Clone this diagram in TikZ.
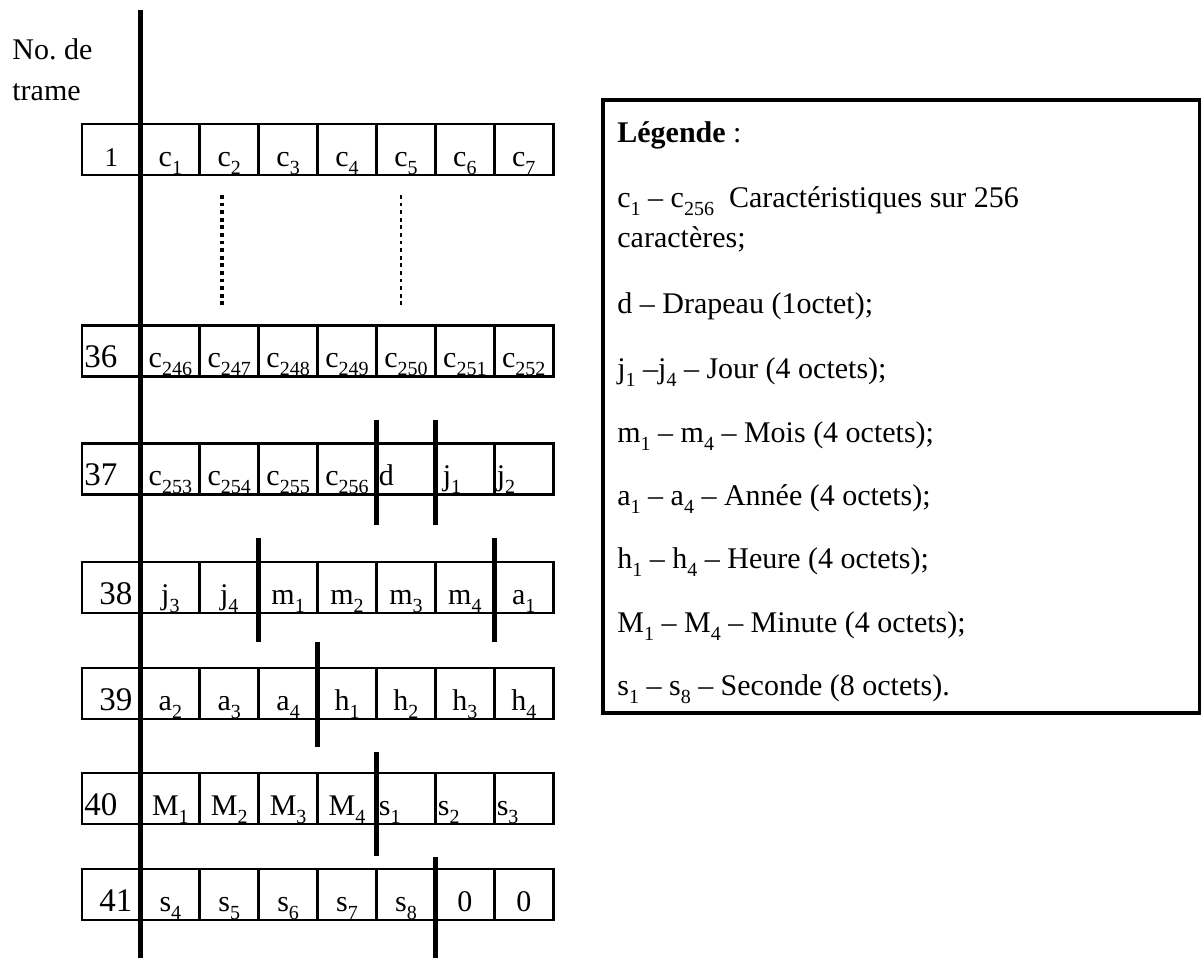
\documentclass[tikz,border=0pt]{standalone}
\usepackage{fontspec}
\setmainfont{Liberation Serif}
\usepackage{tikz}
\usetikzlibrary{positioning}
\tikzstyle{cell} = [rectangle, draw=black, line width=1.4pt, minimum width=29.45pt, minimum height=25.5pt, inner sep=0pt, outer sep=0pt, text height=21pt, text depth=4.5pt, font=\fontsize{15}{18}\selectfont]
\tikzstyle{fieldsep} = [line width=2.5pt, color=black]
\tikzstyle{axisline} = [line width=2.5pt, color=black]
\tikzstyle{gapdots} = [line width=1.8pt, dash pattern=on 1.9pt off 1.9pt]
\tikzstyle{rowlabel} = [anchor=base west, inner sep=0pt, font=\fontsize{15}{18}\selectfont]
\tikzstyle{legendbox} = [rectangle, draw=black, line width=1.6pt, anchor=north west, minimum width=298.5pt, minimum height=306.5pt, inner sep=0pt, outer sep=0pt]
\tikzstyle{legendline} = [anchor=base west, inner sep=0pt, font=\fontsize{15}{18}\selectfont]
\newcommand{\sbs}[1]{\raisebox{-4pt}{\fontsize{10}{11}\selectfont #1}}
\newcommand{\numleft}[1]{\makebox[27pt][l]{\fontsize{16.5}{18}\selectfont #1}}
\newcommand{\numright}[1]{\makebox[27pt][r]{\fontsize{16.5}{18}\selectfont #1\hspace{3pt}}}
\newcommand{\lft}[1]{\makebox[27pt][l]{#1}}
\begin{document}
\begin{tikzpicture}[x=0.5pt, y=-0.5pt]
    \useasboundingbox (0,0) rectangle (1201,958);
    % column header
    \node[rowlabel] (lblno) at (12,59) {No.\ de};
    \node[rowlabel] (lbltrame) at (12,100) {trame};

    % frames
    \foreach \lab [count=\k from 0] in {{\fontsize{13.5}{16}\selectfont 1}, c\sbs{1}, c\sbs{2}, c\sbs{3}, c\sbs{4}, c\sbs{5}, c\sbs{6}, c\sbs{7}}
        \node[cell] (t1c\k) at ({82+58.9*(\k+0.5)}, 149.5) {\lab};
    \foreach \lab [count=\k from 0] in {\numleft{36}, c\sbs{246}, c\sbs{247}, c\sbs{248}, c\sbs{249}, c\sbs{250}, c\sbs{251}, c\sbs{252}}
        \node[cell] (t36c\k) at ({82+58.9*(\k+0.5)}, 351) {\lab};
    \foreach \lab [count=\k from 0] in {\numleft{37}, c\sbs{253}, c\sbs{254}, c\sbs{255}, c\sbs{256}, \lft{d}, \lft{\,j\sbs{1}}, \lft{j\sbs{2}}}
        \node[cell] (t37c\k) at ({82+58.9*(\k+0.5)}, 469) {\lab};
    \foreach \lab [count=\k from 0] in {\numright{38}, j\sbs{3}, j\sbs{4}, m\sbs{1}, m\sbs{2}, m\sbs{3}, m\sbs{4}, a\sbs{1}}
        \node[cell] (t38c\k) at ({82+58.9*(\k+0.5)}, 587.5) {\lab};
    \foreach \lab [count=\k from 0] in {\numright{39}, a\sbs{2}, a\sbs{3}, a\sbs{4}, h\sbs{1}, h\sbs{2}, h\sbs{3}, h\sbs{4}}
        \node[cell] (t39c\k) at ({82+58.9*(\k+0.5)}, 693.5) {\lab};
    \foreach \lab [count=\k from 0] in {\numleft{40}, M\sbs{1}, M\sbs{2}, M\sbs{3}, M\sbs{4}, \lft{s\sbs{1}}, \lft{s\sbs{2}}, \lft{s\sbs{3}}}
        \node[cell] (t40c\k) at ({82+58.9*(\k+0.5)}, 798.5) {\lab};
    \foreach \lab [count=\k from 0] in {\numright{41}, s\sbs{4}, s\sbs{5}, s\sbs{6}, s\sbs{7}, s\sbs{8}, 0, 0}
        \node[cell] (t41c\k) at ({82+58.9*(\k+0.5)}, 894.5) {\lab};

    % time axis and skipped frames
    \draw[axisline] (t1c0.east |- 0,10) -- (t41c0.east |- 0,958);
    \draw[gapdots] (222,195) -- (222,308);
    \draw[gapdots, line width=1.4pt] (401,195) -- (401,308);

    % field boundaries
    \draw[fieldsep] ([yshift=12pt]t37c4.north east) -- ([yshift=-15pt]t37c4.south east);
    \draw[fieldsep] ([yshift=12pt]t37c5.north east) -- ([yshift=-15pt]t37c5.south east);
    \draw[fieldsep] ([yshift=12pt]t38c2.north east) -- ([yshift=-14.5pt]t38c2.south east);
    \draw[fieldsep] ([yshift=12pt]t38c6.north east) -- ([yshift=-14.5pt]t38c6.south east);
    \draw[fieldsep] ([yshift=13pt]t39c3.north east) -- ([yshift=-14pt]t39c3.south east);
    \draw[fieldsep] ([yshift=10.5pt]t40c4.north east) -- ([yshift=-16pt]t40c4.south east);
    \draw[fieldsep] ([yshift=6pt]t41c5.north east) -- (t41c5.east |- 0,958);

    % legend
    \node[legendbox] (legend) at (603,100) {};
    \foreach \yy/\txt [count=\li] in {142/{\textbf{Légende} :},
            207/{c\sbs{1} -- c\sbs{256}\ \ Caractéristiques sur 256},
            247/{caractères;},
            313/{d -- Drapeau (1octet);},
            378/{j\sbs{1} --j\sbs{4} -- Jour (4 octets);},
            442/{m\sbs{1} -- m\sbs{4} -- Mois (4 octets);},
            505/{a\sbs{1} -- a\sbs{4} -- Année (4 octets);},
            568/{h\sbs{1} -- h\sbs{4} -- Heure (4 octets);},
            632/{M\sbs{1} -- M\sbs{4} -- Minute (4 octets);},
            695/{s\sbs{1} -- s\sbs{8} -- Seconde (8 octets).}}
        \node[legendline] (leg\li) at (617,\yy) {\txt};
\end{tikzpicture}
\end{document}
